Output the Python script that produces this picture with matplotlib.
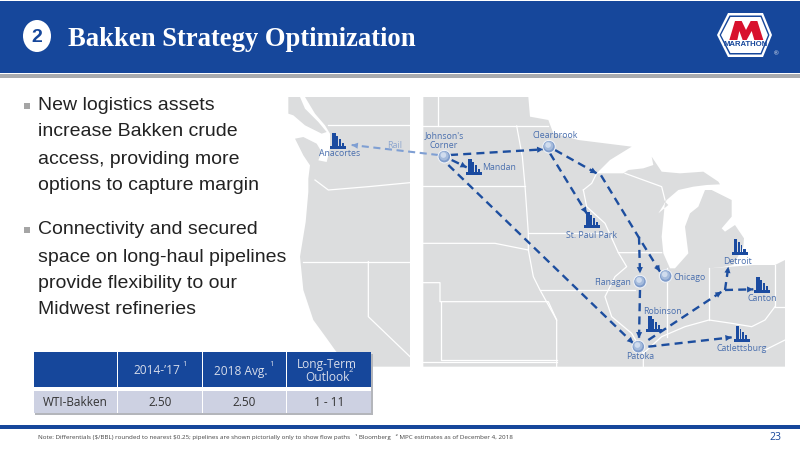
import matplotlib
matplotlib.use("Agg")
import matplotlib.pyplot as plt
from matplotlib.patches import Rectangle, Polygon, Ellipse, Circle

BLUE = "#16479b"
LAND = "#dcddde"
TXT = "#4a6fae"

TITLE = "Bakken Strategy Optimization"
BULLETS = [["New logistics assets", "increase Bakken crude", "access, providing more", "options to capture margin"],
           ["Connectivity and secured", "space on long-haul pipelines", "provide flexibility to our", "Midwest refineries"]]
TABLE_COLS = ["2014-\u201917", "2018 Avg.", "Long-Term\nOutlook"]
TABLE_ROW = "WTI-Bakken"
TABLE_VALS = ["2.50", "2.50", "1 - 11"]
NOTE = ("Note: Differentials (\\$/BBL) rounded to nearest \\$0.25; pipelines are shown pictorially only to show flow paths   "
        "\u00b9 Bloomberg   \u00b2 MPC estimates as of December 4, 2018")

# nodes and refineries, positions read in zoomed map coordinates
HUBS = {"Johnson's\nCorner": (478, 200), "Clearbrook": (792, 170), "Chicago": (1142, 558),
        "Flanagan": (1065, 575), "Patoka": (1060, 770)}
HUB_LABELS = {"Johnson's\nCorner": (477, 152), "Clearbrook": (812, 135), "Chicago": (1215, 563),
              "Flanagan": (983, 578), "Patoka": (1065, 800)}
REFINERIES = {"Anacortes": (160, 178), "Mandan": (568, 255), "St. Paul Park": (922, 415),
              "Robinson": (1108, 725), "Detroit": (1365, 495), "Canton": (1432, 608),
              "Catlettsburg": (1370, 755)}
REF_LABELS = {"Anacortes": (165, 192), "Mandan": (643, 233), "St. Paul Park": (920, 436),
              "Robinson": (1132, 665), "Detroit": (1357, 516), "Canton": (1432, 625),
              "Catlettsburg": (1370, 776)}
ROUTES = [[(495, 195), (775, 178)], [(500, 210), (545, 232)], [(490, 225), (1045, 760)],
          [(810, 180), (935, 250)], [(948, 256), (1060, 440), (1125, 545)], [(1062, 440), (1065, 550)],
          [(795, 190), (905, 370)], [(1065, 600), (1062, 745)], [(1090, 750), (1310, 605)],
          [(1320, 600), (1330, 530)], [(1320, 600), (1405, 598)], [(1090, 770), (1340, 742)]]
RAIL = [(460, 195), (200, 165)]

MAP_ISLAND = [(10, 21), (45, 21), (60, 56), (100, 96), (125, 126), (110, 131), (60, 106), (25, 76), (10, 71)]
MAP_W = [(60, 21), (375, 21), (375, 830), (190, 830), (150, 780), (125, 745), (85, 690), (55, 600), (45, 500),
         (62, 396), (70, 306), (70, 266), (75, 226), (55, 196), (30, 146), (55, 141), (95, 161), (110, 186),
         (100, 211), (125, 216), (135, 176), (135, 131), (120, 106), (90, 71)]
MAP_E = [(415, 21), (730, 21), (735, 80), (790, 90), (805, 130), (880, 150), (1040, 170), (975, 210), (935, 250),
         (985, 250), (1015, 250), (1030, 240), (1075, 235), (1105, 225), (1100, 200), (1130, 245), (1185, 250),
         (1255, 245), (1300, 275), (1305, 283), (1265, 285), (1225, 290), (1180, 300), (1145, 330), (1120, 370),
         (1150, 345), (1140, 335), (1130, 440), (1135, 490), (1155, 535), (1170, 535), (1210, 490), (1200, 410),
         (1215, 370), (1240, 350), (1260, 300), (1280, 300), (1340, 330), (1340, 380), (1310, 415), (1320, 425),
         (1350, 405), (1377, 445), (1375, 470), (1345, 525), (1320, 530), (1275, 535), (1405, 525), (1470, 525),
         (1500, 510), (1500, 830), (415, 830)]
BORDERS = [[(130, 105), (375, 105)], [(90, 270), (130, 300), (250, 290), (375, 278)], [(55, 515), (375, 515)],
           [(250, 515), (250, 680), (375, 800)], [(460, 21), (460, 108)], [(415, 108), (790, 108)],
           [(695, 108), (712, 200), (720, 288), (730, 430), (730, 480), (745, 560), (765, 600), (815, 690)],
           [(415, 288), (720, 288)], [(415, 460), (630, 460), (730, 480)], [(730, 430), (960, 430)],
           [(765, 600), (960, 600), (1050, 600)], [(415, 578), (465, 578), (465, 635), (790, 635), (815, 690), (815, 830)],
           [(468, 635), (468, 810), (815, 810)], [(415, 815), (815, 815)], [(895, 300), (920, 280), (935, 250)],
           [(895, 300), (905, 350), (960, 400), (1000, 488), (1130, 488)],
           [(1000, 488), (1025, 530), (990, 560), (960, 620), (980, 680), (1040, 730), (1075, 790), (1075, 830)],
           [(1145, 535), (1145, 740)], [(1272, 535), (1272, 690)], [(1470, 525), (1470, 650), (1500, 650)],
           [(1020, 250), (1130, 290), (1140, 330)], [(1075, 790), (1130, 740), (1200, 710), (1272, 690), (1340, 700), (1400, 710), (1440, 690), (1470, 650)],
           [(1440, 780), (1500, 750)]]

LOGO_M = [(88, 105), (105, 48), (125, 48), (138, 75), (152, 48), (172, 48), (190, 105), (163, 105), (155, 78), (140, 105), (128, 105), (118, 78), (112, 105)]


def P(pt):
    return 285 + pt[0] / 3, 90 + pt[1] / 3


def hexagon(inset):
    return [(728 + inset * 0.6, 13 + inset), (763 - inset * 0.6, 13 + inset), (772 - inset, 35), (763 - inset * 0.6, 57 - inset),
            (728 + inset * 0.6, 57 - inset), (717 + inset, 35)]


fig = plt.figure(figsize=(8, 4.5), dpi=100, facecolor="white")
ax = fig.add_axes([0, 0, 1, 1])
ax.set_xlim(0, 800)
ax.set_ylim(450, 0)
ax.axis("off")

# header
ax.add_patch(Rectangle((0, 1), 800, 72, fc=BLUE, ec="none"))
ax.add_patch(Rectangle((0, 74), 800, 4, fc="#a9abae", ec="none"))
ax.add_patch(Ellipse((37, 36), 28, 32, fc="white", ec="none"))
ax.text(37, 37, "2", color=BLUE, fontsize=14, family="Liberation Sans", ha="center", va="center", fontweight="bold")
ax.text(68, 39, TITLE, color="white", fontsize=19.2, family="Liberation Serif", fontweight="bold", va="center", ha="left")

# logo
ax.add_patch(Polygon(hexagon(0), fc="white", ec="none", joinstyle="round"))
ax.add_patch(Polygon(hexagon(2.5), fc=BLUE, ec="none"))
ax.add_patch(Polygon(hexagon(4), fc="white", ec="none"))
ax.add_patch(Polygon([(700 + x / 3, 5 + y / 3) for x, y in LOGO_M], fc="#d8112d", ec="none"))
ax.text(745.5, 45, "MARATHON", color=BLUE, fontsize=5.6, family="Liberation Sans", fontweight="bold", ha="center", va="center")
ax.text(776.5, 53.5, "\u00ae", color="white", fontsize=4.5, family="Liberation Sans", ha="center", va="center")

# bullets
ypos = [[106, 132, 159, 185], [230, 257, 283, 309]]
for lines, ys in zip(BULLETS, ypos):
    ax.add_patch(Rectangle((24, ys[0] - 3), 6, 5.5, fc="#a5a5a5", ec="none"))
    for line, y in zip(lines, ys):
        ax.text(37.5, y, line, fontsize=14, family="Liberation Sans", color="#222222", va="center", ha="left")

# map
ax.add_patch(Polygon([P(p) for p in MAP_ISLAND], fc=LAND, ec="none"))
ax.add_patch(Polygon([P(p) for p in MAP_W], fc=LAND, ec="none"))
ax.add_patch(Polygon([P(p) for p in MAP_E], fc=LAND, ec="none"))
for b in BORDERS:
    ax.plot(*zip(*[P(p) for p in b]), color="white", lw=0.9, zorder=2)


def route(points, color, lw=1.7):
    pts = [P(p) for p in points]
    ax.plot(*zip(*pts), color=color, lw=lw, ls=(0, (3.4, 2.2)), zorder=3)
    a, b = pts[-2], pts[-1]
    n = abs(b[0] - a[0]) + abs(b[1] - a[1])
    s = (b[0] - (b[0] - a[0]) / n * 8, b[1] - (b[1] - a[1]) / n * 8)
    ax.annotate("", xy=b, xytext=s, zorder=4,
                arrowprops=dict(arrowstyle="-|>,head_width=0.22,head_length=0.45", color=color, lw=0, shrinkA=0, shrinkB=0))


for r in ROUTES:
    route(r, "#1d4e9f")
route(RAIL, "#7f9fd3", lw=1.5)
x, y = P((330, 165))
ax.text(x, y, "Rail", fontsize=6.5, color="#8da6cf", family="Open Sans", ha="center", va="center")

for name, pt in HUBS.items():
    x, y = P(pt)
    ax.add_patch(Circle((x, y), 6.3, fc="#7f9ccb", ec="#eef1f6", lw=0.8, zorder=5))
    ax.add_patch(Circle((x - 0.4, y - 0.8), 4.6, fc="#a5bbdc", ec="none", zorder=6))
    ax.add_patch(Circle((x - 0.9, y - 1.6), 2.8, fc="#d0dcee", ec="none", zorder=6))
    lx, ly = P(HUB_LABELS[name])
    ax.text(lx, ly, name, fontsize=6.3, color=TXT, family="Open Sans", ha="center", va="center", zorder=6, linespacing=1.2)

for name, pt in REFINERIES.items():
    x, y = P(pt)
    for dx, w, h in [(-8, 16, 3), (-6, 3.2, 16), (-2, 1.6, 13), (0.5, 1.8, 10), (3.3, 2.2, 6.5)]:
        ax.add_patch(Rectangle((x + dx, y - h), w, h, fc="#1b4ba0", ec="none", zorder=5))
    lx, ly = P(REF_LABELS[name])
    ax.text(lx, ly, name, fontsize=6.3, color=TXT, family="Open Sans", ha="center", va="center", zorder=6)

# table
cols = [(34, 117), (118, 202), (203, 286), (287, 371)]
ax.add_patch(Rectangle((35, 354), 338, 61, fc="#b4b6bb", ec="none", zorder=5))
ax.add_patch(Rectangle((34, 352), 337, 61, fc="white", ec="none", zorder=6))
centers = [None, 157, 241, 327]
for i, (x0, x1) in enumerate(cols):
    ax.add_patch(Rectangle((x0, 352), x1 - x0, 35, fc=BLUE, ec="none", zorder=7))
    ax.add_patch(Rectangle((x0, 391), x1 - x0, 22, fc="#cdd1e2", ec="none", zorder=7))
    cx = (x0 + x1) / 2
    if i:
        ax.text(centers[i], 371, TABLE_COLS[i - 1], color="#d6dcea", fontsize=8.6, family="Open Sans", ha="center", va="center", zorder=8, linespacing=1.0)
        ax.text(cx, 402, TABLE_VALS[i - 1], color="#333333", fontsize=8.5, family="Open Sans", ha="center", va="center", zorder=8)
    else:
        ax.text(cx, 402, TABLE_ROW, color="#333333", fontsize=8.5, family="Open Sans", ha="center", va="center", zorder=8)
for sx, sy, s in [(185, 365, "1"), (272, 365, "1"), (351, 371, "2")]:
    ax.text(sx, sy, s, color="#d6dcea", fontsize=5.5, family="Open Sans", ha="center", va="center", zorder=8)

# footer
ax.add_patch(Rectangle((0, 425), 800, 3.5, fc=BLUE, ec="none"))
ax.text(38, 436.5, NOTE, fontsize=4.5, color="#444444", family="Open Sans", ha="left", va="center")
ax.text(775, 437, "23", fontsize=7.5, color=BLUE, family="Open Sans", ha="center", va="center")

fig.savefig("out.png", dpi=100)
